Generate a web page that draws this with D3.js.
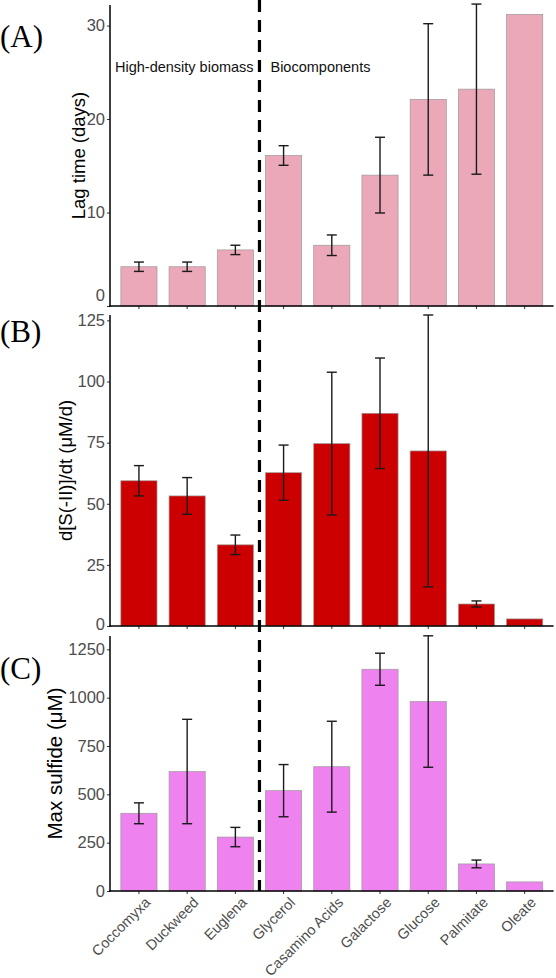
<!DOCTYPE html>
<html>
<head>
<meta charset="utf-8">
<script src="https://cdn.jsdelivr.net/npm/d3@7"></script>
<style>
  html, body { margin: 0; padding: 0; background: #fff; }
  svg { display: block; }
</style>
</head>
<body>
<svg id="chart" width="556" height="978"></svg>
<script>
const categories = ["Coccomyxa", "Duckweed", "Euglena", "Glycerol", "Casamino Acids", "Galactose", "Glucose", "Palmitate", "Oleate"];

const lagMean = [4.2, 4.2, 6.0, 16.1, 6.5, 14.0, 22.1, 23.2, 31.2];
const lagErr  = [0.5, 0.5, 0.5, 1.05, 1.1, 4.05, 8.1, 9.1, null];

const rateMean = [59.4, 53.2, 33.2, 62.7, 74.6, 87.0, 71.6, 9.0, 2.9];
const rateErr  = [6.2, 7.5, 4.0, 11.3, 29.2, 22.6, 55.6, 1.25, null];

const sulfMean = [402, 618, 279, 519, 643, 1147, 980, 140, 47];
const sulfErr  = [54, 270, 50, 135, 235, 83, 340, 20, null];

const lagTicks = [0, 10, 20, 30];
const rateTicks = [0, 25, 50, 75, 100, 125];
const sulfTicks = [0, 250, 500, 750, 1000, 1250];

const groupLabels = ["High-density biomass", "Biocomponents"];

const SANS = "'Liberation Sans', Arial, Helvetica, sans-serif";
const SERIF = "'Liberation Serif', 'Times New Roman', serif";

const svg = d3.select("#chart");
const left = 110, right = 553.6;

const x = d3.scaleBand().domain(categories).range([left, right])
  .paddingInner(0.25).paddingOuter(0.225);

const panels = [
  { letter: "(A)", title: "Lag time (days)", mean: lagMean, err: lagErr, ticks: lagTicks,
    domain: [0, 32.2], top: 5, bottom: 306, fill: "#EBA8B8", titleX: 78, titleSize: 18.5, letterY: 47, zeroShift: -11 },
  { letter: "(B)", title: "d[S(-II)]/dt (\u03BCM/d)", mean: rateMean, err: rateErr, ticks: rateTicks,
    domain: [0, 127.2], top: 315, bottom: 626, fill: "#CC0000", titleX: 65, titleSize: 18.5, letterY: 342, zeroShift: -2 },
  { letter: "(C)", title: "Max sulfide (\u03BCM)", mean: sulfMean, err: sulfErr, ticks: sulfTicks,
    domain: [0, 1319], top: 636, bottom: 891, fill: "#EE82EE", titleX: 54, titleSize: 20.5, letterY: 679, zeroShift: 0 }
];

panels.forEach((p, pi) => {
  const y = d3.scaleLinear().domain(p.domain).range([p.bottom, p.top]);
  const g = svg.append("g");

  // bars
  g.selectAll("rect.bar").data(categories).join("rect")
    .attr("class", "bar")
    .attr("x", d => x(d))
    .attr("width", x.bandwidth())
    .attr("y", (d, i) => y(p.mean[i]))
    .attr("height", (d, i) => p.bottom - y(p.mean[i]))
    .attr("fill", p.fill)
    .attr("stroke", "#9a9a9a")
    .attr("stroke-width", 0.7);

  // error bars
  const cap = 5;
  categories.forEach((c, i) => {
    if (p.err[i] == null) return;
    const cx = x(c) + x.bandwidth() / 2;
    const y1 = y(p.mean[i] + p.err[i]);
    const y2 = y(p.mean[i] - p.err[i]);
    const eg = g.append("g").attr("stroke", "#1a1a1a").attr("stroke-width", 1.4).attr("fill", "none");
    eg.append("line").attr("x1", cx).attr("x2", cx).attr("y1", y1).attr("y2", y2);
    eg.append("line").attr("x1", cx - cap).attr("x2", cx + cap).attr("y1", y1).attr("y2", y1);
    eg.append("line").attr("x1", cx - cap).attr("x2", cx + cap).attr("y1", y2).attr("y2", y2);
  });

  // y axis
  const yAxis = d3.axisLeft(y).tickValues(p.ticks).tickSize(3).tickPadding(2).tickFormat(d3.format("d"));
  const ya = g.append("g").attr("transform", `translate(${left},0)`).call(yAxis);
  ya.select(".domain").remove();
  ya.selectAll(".tick line").attr("stroke", "#333").attr("stroke-width", 1);
  ya.selectAll(".tick text").attr("fill", "#4D4D4D").attr("font-size", 16.5)
    .style("font-family", SANS);
  ya.selectAll(".tick").filter(d => d === 0).select("text")
    .attr("y", p.zeroShift);

  // x axis ticks (no labels)
  const xAxis = d3.axisBottom(x).tickSize(3);
  const xa = g.append("g").attr("transform", `translate(0,${p.bottom})`).call(xAxis);
  xa.select(".domain").remove();
  xa.selectAll(".tick text").remove();
  xa.selectAll(".tick line").attr("stroke", "#333").attr("stroke-width", 1);

  // axis lines
  g.append("line").attr("x1", left).attr("x2", left).attr("y1", p.top).attr("y2", p.bottom + 0.75)
    .attr("stroke", "#000").attr("stroke-width", 1.5);
  g.append("line").attr("x1", left - 0.75).attr("x2", right).attr("y1", p.bottom).attr("y2", p.bottom)
    .attr("stroke", "#000").attr("stroke-width", 1.5);

  // axis title
  g.append("text")
    .attr("transform", `translate(${p.titleX},${(p.top + p.bottom) / 2}) rotate(-90)`)
    .attr("text-anchor", "middle")
    .attr("dominant-baseline", "central")
    .attr("font-size", p.titleSize)
    .style("font-family", SANS)
    .attr("fill", "#000")
    .text(p.title);

  // panel letter
  g.append("text")
    .attr("x", 0).attr("y", p.letterY)
    .style("font-family", SERIF)
    .attr("font-size", 31)
    .attr("fill", "#000")
    .text(p.letter);

  // category labels on the bottom panel
  if (pi === panels.length - 1) {
    const lab = g.selectAll("g.xlab").data(categories).join("g")
      .attr("class", "xlab")
      .attr("transform", d => `translate(${x(d) + x.bandwidth() / 2 + 5},${p.bottom + 5})`);
    lab.append("text")
      .attr("transform", "rotate(-45)")
      .attr("text-anchor", "end")
      .attr("dy", "0.72em")
      .attr("font-size", 14.5)
      .style("font-family", SANS)
      .attr("fill", "#4D4D4D")
      .text(d => d);
  }
});

// group annotation labels in panel A
const sepX = (x("Euglena") + x.bandwidth() + x("Glycerol")) / 2;
svg.append("text").attr("x", 115).attr("y", 72).attr("font-size", 14.5)
  .style("font-family", SANS).attr("fill", "#111").text(groupLabels[0]);
svg.append("text").attr("x", sepX + 11).attr("y", 72).attr("font-size", 14.5)
  .style("font-family", SANS).attr("fill", "#111").text(groupLabels[1]);

// dashed separator
svg.append("line")
  .attr("x1", sepX).attr("x2", sepX)
  .attr("y1", 0).attr("y2", panels[2].bottom)
  .attr("stroke", "#000").attr("stroke-width", 3.2)
  .attr("stroke-dasharray", "12,8");
</script>
</body>
</html>
